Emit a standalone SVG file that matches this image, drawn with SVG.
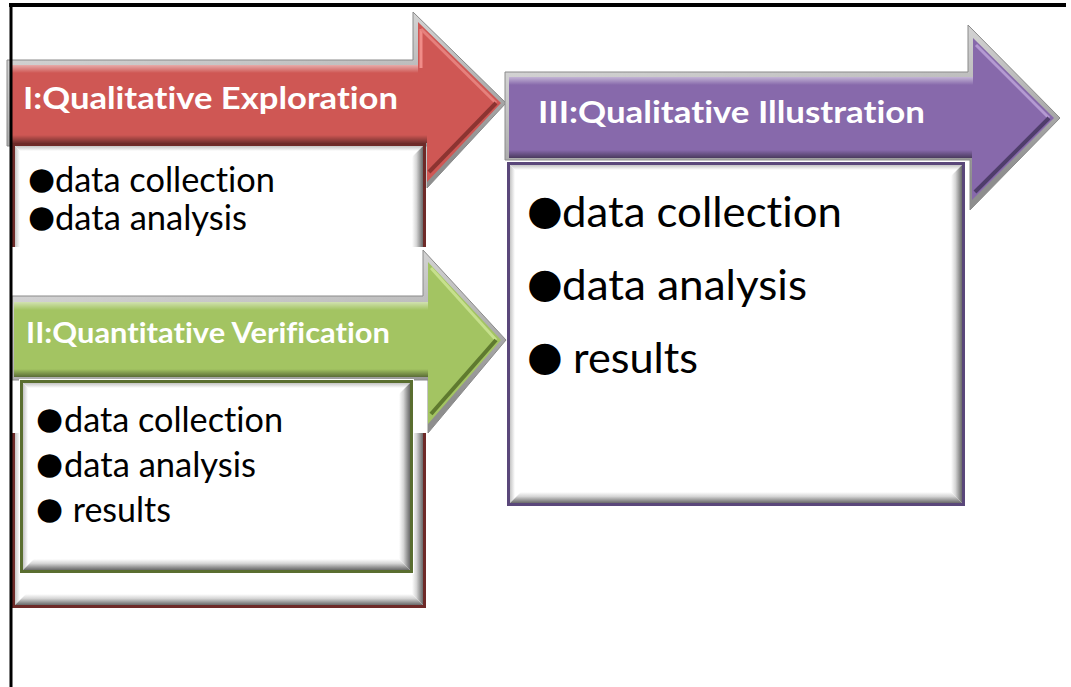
<svg xmlns="http://www.w3.org/2000/svg" width="1071" height="687" viewBox="0 0 1071 687">
<style>
.hdr{font-family:Lato,"Liberation Sans",sans-serif;font-weight:bold;fill:#ffffff;font-variant-ligatures:none}
.bd{font-family:Lato,"Liberation Sans",sans-serif;fill:#000000;font-variant-ligatures:none}
.bul{font-family:"DejaVu Sans",sans-serif}
.outer{fill:url(#gOuter);stroke:#8a8a8a;stroke-width:1}
.hl{fill:url(#gHl)}
.sh{fill:url(#gSh)}
.bevR{fill:url(#bevR)}
.bevB{fill:url(#bevB)}
.bevL{fill:url(#bevL)}
.bevT{fill:url(#bevT)}
</style>
<defs>
<linearGradient id="gOuter" x1="0" y1="0" x2="0.3" y2="1">
<stop offset="0" stop-color="#e6e6e6"/><stop offset="0.5" stop-color="#bdbdbd"/><stop offset="1" stop-color="#8e8e8e"/>
</linearGradient>
<linearGradient id="gHl" x1="0" y1="0" x2="0" y2="1">
<stop offset="0" stop-color="#ffffff" stop-opacity="0.5"/><stop offset="1" stop-color="#ffffff" stop-opacity="0"/>
</linearGradient>
<linearGradient id="gSh" x1="0" y1="0" x2="0" y2="1">
<stop offset="0" stop-color="#000000" stop-opacity="0"/><stop offset="1" stop-color="#000000" stop-opacity="0.45"/>
</linearGradient>
<linearGradient id="bevR" x1="0" y1="0" x2="1" y2="0">
<stop offset="0" stop-color="#ffffff"/><stop offset="0.4" stop-color="#d6d6d6"/><stop offset="0.8" stop-color="#8c8c8c"/><stop offset="1" stop-color="#6a6a6a"/>
</linearGradient>
<linearGradient id="bevB" x1="0" y1="0" x2="0" y2="1">
<stop offset="0" stop-color="#ffffff"/><stop offset="0.4" stop-color="#d6d6d6"/><stop offset="0.8" stop-color="#8c8c8c"/><stop offset="1" stop-color="#6a6a6a"/>
</linearGradient>
<linearGradient id="bevL" x1="0" y1="0" x2="1" y2="0">
<stop offset="0" stop-color="#c4c4c4"/><stop offset="1" stop-color="#ffffff"/>
</linearGradient>
<linearGradient id="bevT" x1="0" y1="0" x2="0" y2="1">
<stop offset="0" stop-color="#c4c4c4"/><stop offset="1" stop-color="#ffffff"/>
</linearGradient>
</defs>
<rect x="0" y="0" width="1071" height="687" fill="#ffffff"/>

<g id="stage1">
<polygon class="outer" points="7,60 413,60 413,12 506,103 427,188 427,146 7,146"/>
<polygon fill="#cf5754" points="12,65 418,65 418,22 501,103 427,182 427,143 12,143"/>
<rect class="hl" x="12" y="65" width="406" height="8"/>
<rect class="sh" x="12" y="135" width="415" height="8"/>
<polyline points="421,29 421,68" fill="none" stroke="#f08c88" stroke-width="3"/>
<polyline points="421,29 496,103" fill="none" stroke="#e6807c" stroke-width="3"/>
<polyline points="496,103 429,172" fill="none" stroke="#8c3431" stroke-width="4"/>
<text class="hdr" x="23" y="109" font-size="30" textLength="375" lengthAdjust="spacingAndGlyphs">I:Qualitative Exploration</text>
<rect x="13.5" y="144.5" width="411" height="462" fill="#ffffff" stroke="#6e2a28" stroke-width="3"/>
<polygon class="bevL" points="15,146 20,151 20,600 15,605"/>
<polygon class="bevT" points="15,146 20,151 418,151 423,146"/>
<polygon class="bevR" points="423,146 412,157 412,594 423,605"/>
<polygon class="bevB" points="15,605 26,594 412,594 423,605"/>
<text class="bd" font-size="34"><tspan class="bul" x="28" y="189" font-size="31">●</tspan><tspan x="55" y="192" textLength="220" lengthAdjust="spacingAndGlyphs">data collection</tspan></text>
<text class="bd" font-size="34"><tspan class="bul" x="28" y="227" font-size="31">●</tspan><tspan x="55" y="230" textLength="192" lengthAdjust="spacingAndGlyphs">data analysis</tspan></text>
</g>

<g id="stage2">
<rect x="12" y="247" width="416" height="186" fill="#ffffff"/>
<polygon class="outer" points="12,296 423,296 423,250 506,340 428,433 428,380 12,380"/>
<polygon fill="#a3c462" points="14,302 428,302 428,262 501,340 428,424 428,377 14,377"/>
<rect class="hl" x="14" y="302" width="414" height="8"/>
<rect class="sh" x="14" y="369" width="414" height="8"/>
<polyline points="431,268 496,340" fill="none" stroke="#c6e08c" stroke-width="3"/>
<polyline points="496,340 431,414" fill="none" stroke="#5f7a2f" stroke-width="4"/>
<text class="hdr" x="26" y="343" font-size="28" textLength="364" lengthAdjust="spacingAndGlyphs">II:Quantitative Verification</text>
<rect x="19.5" y="379.5" width="394" height="194" fill="none" stroke="#ffffff" stroke-width="1"/>
<rect x="21.5" y="381.5" width="390" height="190" fill="#ffffff" stroke="#5a6e30" stroke-width="3"/>
<polygon class="bevL" points="23,383 28,388 28,565 23,570"/>
<polygon class="bevT" points="23,383 28,388 405,388 410,383"/>
<polygon class="bevR" points="410,383 399,394 399,559 410,570"/>
<polygon class="bevB" points="23,570 34,559 399,559 410,570"/>
<text class="bd" font-size="34"><tspan class="bul" x="36" y="429" font-size="31">●</tspan><tspan x="64" y="432" textLength="219" lengthAdjust="spacingAndGlyphs">data collection</tspan></text>
<text class="bd" font-size="34"><tspan class="bul" x="36" y="474" font-size="31">●</tspan><tspan x="64" y="477" textLength="192" lengthAdjust="spacingAndGlyphs">data analysis</tspan></text>
<text class="bd" font-size="34"><tspan class="bul" x="36" y="519" font-size="31">●</tspan><tspan x="64" y="522" textLength="107" lengthAdjust="spacingAndGlyphs"> results</tspan></text>
</g>

<g id="stage3">
<polygon class="outer" points="505,72 968,72 968,25 1060,118 970,210 970,160 505,160"/>
<polygon fill="#8769ab" points="509,77 973,77 973,38 1054,118 972,200 972,158 509,158"/>
<rect class="hl" x="509" y="77" width="464" height="8"/>
<rect class="sh" x="509" y="150" width="463" height="8"/>
<polyline points="976,45 1049,118" fill="none" stroke="#b49ad2" stroke-width="3"/>
<polyline points="1049,118 975,192" fill="none" stroke="#4f3d6b" stroke-width="4"/>
<text class="hdr" x="538" y="123" font-size="30" textLength="387" lengthAdjust="spacingAndGlyphs">III:Qualitative Illustration</text>
<rect x="508.5" y="163.5" width="455" height="341" fill="#ffffff" stroke="#5a477a" stroke-width="3"/>
<polygon class="bevL" points="510,165 515,170 515,498 510,503"/>
<polygon class="bevT" points="510,165 515,170 957,170 962,165"/>
<polygon class="bevR" points="962,165 951,176 951,492 962,503"/>
<polygon class="bevB" points="510,503 521,492 951,492 962,503"/>
<text class="bd" font-size="43"><tspan class="bul" x="527" y="224" font-size="41">●</tspan><tspan x="562" y="227" textLength="280" lengthAdjust="spacingAndGlyphs">data collection</tspan></text>
<text class="bd" font-size="43"><tspan class="bul" x="527" y="297" font-size="41">●</tspan><tspan x="562" y="300" textLength="245" lengthAdjust="spacingAndGlyphs">data analysis</tspan></text>
<text class="bd" font-size="43"><tspan class="bul" x="527" y="370" font-size="41">●</tspan><tspan x="562" y="373" textLength="136" lengthAdjust="spacingAndGlyphs"> results</tspan></text>
</g>

<g id="connectors"></g>

<g id="frame">
<line x1="9" y1="5" x2="1066" y2="5" stroke="#000000" stroke-width="4"/>
<line x1="11" y1="3" x2="11" y2="687" stroke="#000000" stroke-width="3"/>
</g>
</svg>
